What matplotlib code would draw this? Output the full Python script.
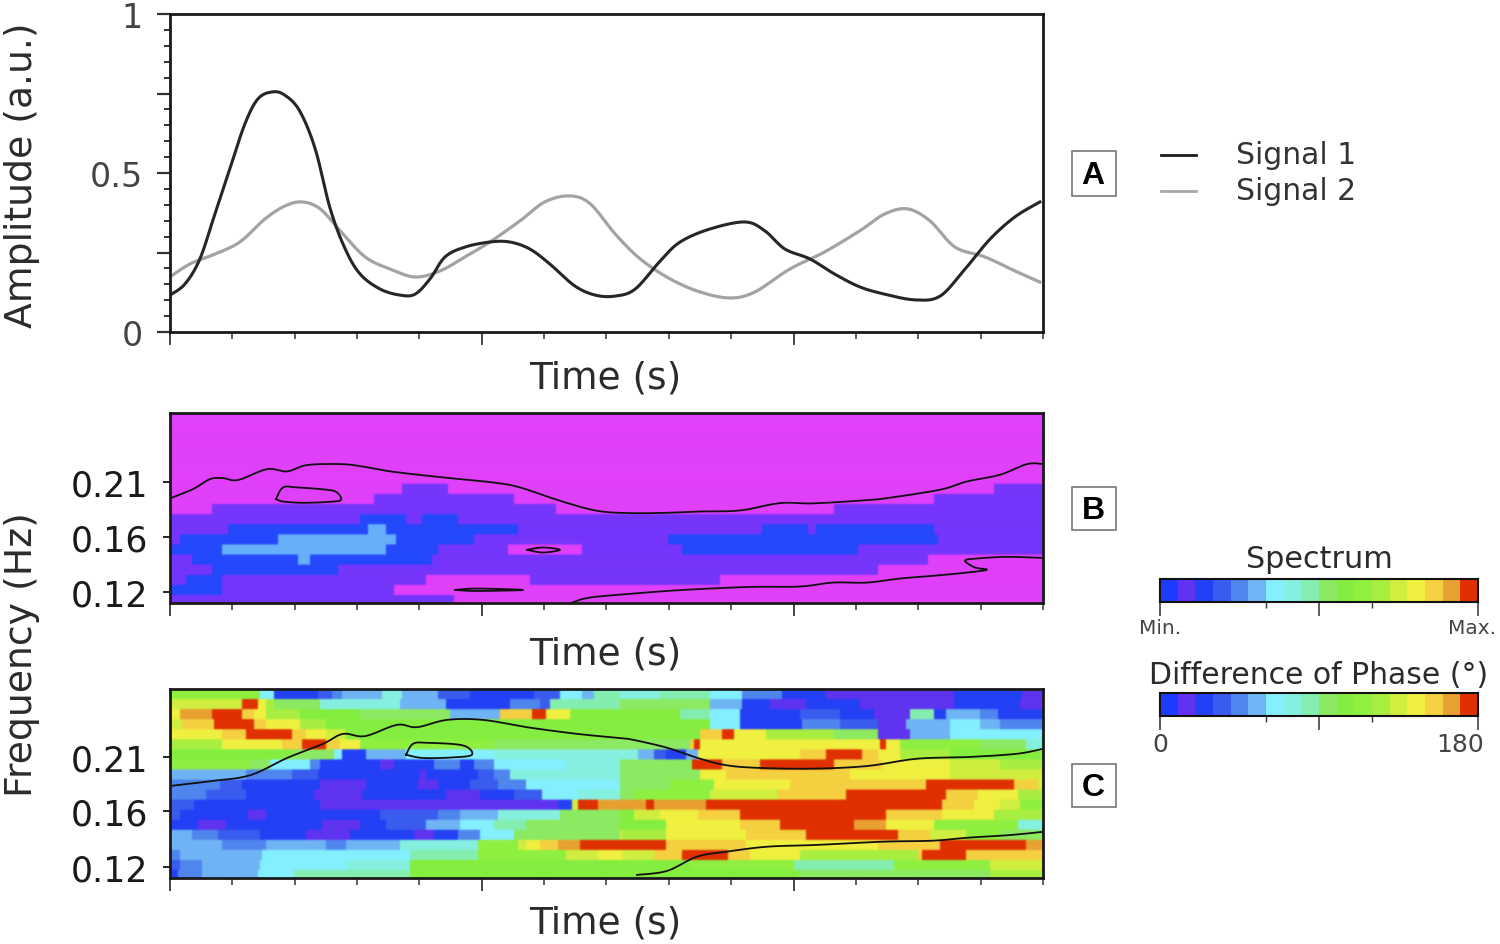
import numpy as np
import matplotlib
matplotlib.use("Agg")
import matplotlib.pyplot as plt
from matplotlib.colors import ListedColormap
from matplotlib.patches import Rectangle

W, H = 1500, 945
plt.rcParams['font.family'] = ['DejaVu Sans']
TXT = '#2b2b2b'

# ---------- Panel A ----------
t1 = [0,.24,.48,.72,.96,1.2,1.41,1.64,1.84,2.08,2.33,2.57,2.81,3.05,3.37,3.69,3.93,4.17,4.41,4.73,5.13,5.45,5.77,6.09,6.49,6.82,7.14,7.46,7.86,8.18,8.66,9.22,9.54,9.86,10.26,10.66,11.06,11.46,11.95,12.35,12.75,13.15,13.55,13.95]
signal1 = [.116,.151,.230,.371,.513,.654,.733,.755,.745,.695,.575,.387,.261,.182,.135,.116,.119,.167,.236,.267,.283,.283,.261,.214,.145,.116,.113,.135,.223,.283,.324,.346,.318,.261,.230,.182,.142,.119,.101,.113,.198,.292,.362,.409]
t2 = [0,.32,.72,1.12,1.52,1.84,2.12,2.41,2.73,3.13,3.53,3.93,4.33,4.73,5.13,5.61,6.01,6.41,6.74,7.14,7.54,8.02,8.5,8.98,9.38,9.94,10.5,11.06,11.46,11.83,12.19,12.59,13.07,13.55,13.95]
signal2 = [.173,.214,.245,.283,.355,.396,.409,.387,.318,.236,.198,.173,.192,.236,.283,.349,.409,.428,.403,.308,.230,.167,.126,.107,.126,.198,.252,.318,.371,.387,.349,.267,.236,.192,.157]

# ---------- colour levels ----------
levels = ['#1f3bff','#5f33f0','#2340f5','#3a5cee','#4f86ee','#6fb4f5','#84f0ff','#86f0e0','#84eeb0','#8cea62',
          '#84ee40','#8ff040','#a8ee40','#d0ee40','#f0f040','#f5d040','#e8a030','#e03000']
spectrum_colors = ['#e040fa', '#7535fb', '#2448fb', '#66b0fa']
M, V, B, L = 0, 1, 2, 3

# Each row (top to bottom): list of (level, end position along time, in cells)
spectrum_rows = [
 [(M,88)],[(M,88)],[(M,88)],[(M,88)],[(M,88)],[(M,88)],[(M,88)],
 [(M,23.3),(V,27.8),(M,82.4),(V,88)],
 [(M,20.4),(V,34.3),(M,76.4),(V,88)],
 [(M,4.2),(V,38.6),(M,66.5),(V,88)],
 [(V,19),(B,23.7),(V,25.2),(B,28.7),(V,88)],
 [(V,5.8),(B,19.8),(L,21.7),(B,34.7),(V,59.3),(B,63.8),(V,64.6),(B,76.5),(V,88)],
 [(V,1),(B,10.7),(L,22.6),(B,30.3),(V,49.8),(B,76.8),(V,88)],
 [(B,5.1),(L,21.5),(B,26.7),(V,33.8),(M,41.3),(V,51.2),(B,68.7),(V,88)],
 [(V,2.2),(B,12.7),(L,13.9),(B,26.2),(V,75.8),(M,88)],
 [(V,4.2),(B,16.8),(V,70.8),(M,88)],
 [(V,1.6),(B,5.3),(V,25.5),(M,36),(V,55),(M,88)],
 [(B,5.3),(V,22.4),(M,88)],
 [(V,28.3),(M,88)],
]

phase_rows = [
 [(11,9),(6,10.5),(2,14.7),(3,16.2),(4,17.2),(5,21.2),(7,23.2),(5,26.8),(3,30),(2,36.3),(3,39),(6,41.3),(5,42.3),(8,45),(7,49),(8,54),(6,57.3),(4,61.3),(2,65.7),(1,78.3),(2,85.3),(1,88)],
 [(13,7.3),(17,8.7),(14,9.7),(12,10.5),(9,15),(7,23),(5,27.7),(2,34),(4,37),(3,38),(8,45),(9,54),(5,57.3),(2,60),(1,63.7),(2,69),(1,78.3),(2,85),(1,88)],
 [(14,1),(16,4.2),(17,7.3),(15,8.5),(14,9.7),(12,13),(10,19),(9,28),(5,33),(15,36.2),(17,37.7),(14,40),(10,51),(8,54),(6,57),(2,63),(3,67),(2,70.3),(1,74),(8,76.3),(2,77.7),(5,81),(4,82.7),(2,88)],
 [(13,1.3),(15,4.3),(17,8.3),(15,9.7),(14,13),(12,15.7),(10,54),(6,57),(2,63.3),(4,67),(3,70.7),(1,73.7),(5,78),(6,81),(5,83),(4,88)],
 [(14,5.3),(15,7.7),(17,12.2),(15,13.7),(14,15.7),(13,17.7),(10,53),(15,55.3),(17,56.3),(14,59.7),(12,66.3),(9,70.7),(1,74),(5,78),(6,88)],
 [(12,5.3),(14,11.3),(15,13.3),(17,15.5),(15,17),(14,19),(11,32.3),(9,52),(15,52.5),(17,53),(14,71),(17,71.7),(14,73),(11,81),(9,85.7),(7,88)],
 [(10,12.3),(9,16.3),(6,17.2),(2,19.7),(5,23.7),(6,32.3),(7,46.7),(5,48.3),(3,49.7),(2,51.7),(5,52.7),(14,63),(15,65.7),(17,69.3),(15,70.7),(14,73),(12,78),(10,88)],
 [(11,8),(9,10),(6,14),(4,15),(2,21),(1,22.3),(2,26.3),(4,29),(2,30.3),(4,32.3),(6,39.7),(7,45),(9,52.2),(17,55.2),(15,59),(17,66.3),(15,71.3),(14,78),(13,83),(12,88)],
 [(5,7.7),(4,12.2),(3,14.7),(2,25),(1,25.5),(2,30.7),(3,32.3),(4,34),(7,45),(9,53),(14,55.7),(15,68),(14,78),(13,88)],
 [(4,5),(3,7.3),(2,15),(1,19.7),(2,24.7),(1,26.7),(2,30),(3,32.7),(4,35.7),(6,45),(9,50),(11,54.3),(14,62),(15,75.7),(17,84.3),(15,86.7),(13,88)],
 [(4,3.7),(3,7.7),(2,14.3),(1,19.3),(2,27.7),(1,31),(2,34.3),(3,37.3),(6,40.7),(7,45),(9,46.3),(11,54),(13,60.7),(15,67.7),(17,77.7),(15,80.7),(14,84.7),(12,88)],
 [(3,2.3),(2,15),(1,38.7),(2,40.2),(13,40.8),(17,42.7),(16,47.7),(17,48.3),(16,53.7),(17,77.3),(15,80.3),(14,83),(13,85),(11,88)],
 [(3,1),(2,7.8),(1,9.7),(2,21),(3,26.7),(4,29),(5,32.7),(7,39),(9,45),(10,46.3),(13,49),(14,52.7),(15,57),(17,71.7),(15,77.3),(14,82.3),(12,88)],
 [(2,2.7),(1,5.7),(2,15.3),(1,19),(2,21.7),(3,25.7),(5,29),(6,32.3),(8,35.7),(9,45),(10,49.7),(14,57),(15,61),(17,68.3),(16,71.7),(14,76.3),(11,84.7),(7,88)],
 [(5,2.2),(4,4.8),(3,9),(2,13.7),(1,18),(2,24.3),(1,26.3),(2,28.8),(4,31),(6,34.3),(9,45),(13,45.3),(12,49.7),(14,57.7),(15,63.7),(17,72.7),(15,76),(13,79.7),(11,83),(9,88)],
 [(5,5.3),(4,9.7),(5,15.7),(4,17.7),(5,23),(7,30.7),(11,34.7),(13,35.7),(14,37),(15,38.8),(16,41),(17,49.5),(15,57.7),(14,70.7),(15,77),(17,85.5),(16,88)],
 [(4,1),(5,9.3),(6,24),(8,30.7),(11,39.7),(13,42.7),(14,45.3),(13,48.3),(15,51.3),(17,55.8),(15,58),(14,63),(12,74.7),(15,75.3),(17,79.7),(15,88)],
 [(3,1),(4,3.3),(5,9),(6,17.7),(7,24),(10,52),(11,62.3),(8,72.3),(11,82),(13,88)],
 [(2,0.7),(4,3.3),(5,8.7),(6,12.3),(8,24),(10,63),(9,82),(12,88)],
]

# Contours: position along time and row position, in cells
b_upper_x = [0,2.3,4,5.3,6.8,9.7,11.7,13.7,17,19,22.3,27.3,32.3,35,39,42.7,46,49.7,53,57,61,64.3,69.7,71.7,77,79.7,83,85.7,87.3]
b_upper_y = [8.45,7.53,6.54,6.44,6.63,5.55,5.78,5.15,5.05,5.25,5.81,6.37,6.87,7.36,8.68,9.67,9.9,9.87,9.74,9.64,8.91,8.94,8.62,8.42,7.59,6.77,6.11,5.05,5.05]
b_isle1_x = [10.6,11.3,12.7,15.7,16.7,17.1,16,13.3,11.3,10.6]
b_isle1_y = [8.52,7.36,7.36,7.59,7.86,8.58,8.78,8.88,8.75,8.52]
b_isle2_x = [35.7,37.3,39,37.3,35.7]
b_isle2_y = [13.53,13.3,13.53,13.8,13.53]
b_isle3_x = [28.5,30.7,35.3,30.7,28.5]
b_isle3_y = [17.5,17.36,17.5,17.6,17.5]
b_lower_x = [40.2,42,46.3,51.3,58,63,66.3,69.7,73,76.3,79.7,81.7,80.5,79.5,80.7,83.7,87.3]
b_lower_y = [18.75,18.25,17.86,17.5,17.2,17.16,16.77,16.77,16.37,16.1,15.78,15.5,15.28,14.6,14.39,14.23,14.33]
c_upper_x = [0,4,8,11.7,15.3,17.3,19.5,22.7,24.7,27.7,31.3,35.7,40.7,45,46.3,49.7,53,55.7,59,64.3,69.7,74.7,79.7,84.7,87.3]
c_upper_y = [9.64,9.17,8.58,6.86,5.45,4.46,4.69,3.56,3.8,3.07,3.07,3.8,4.46,4.88,5.05,5.84,6.93,7.59,7.85,7.92,7.66,6.93,6.77,6.44,5.94]
c_isle_x = [23.6,24.3,25.7,29.3,30.2,28.3,25.3,23.6]
c_isle_y = [6.53,5.45,5.35,5.61,6.53,6.8,6.86,6.53]
c_lower_x = [46.7,49.7,52.7,55.7,59.7,64.7,71.3,76.3,79.7,84,87.3]
c_lower_y = [18.48,18.09,16.67,16.17,15.68,15.5,15.18,15.08,14.79,14.52,14.2]

freq_labels = ['0.21', '0.16', '0.12']
amp_ticks = [0, 0.25, 0.5, 0.75, 1]
amp_labels = ['0', '', '0.5', '', '1']
legend_names = ['Signal 1', 'Signal 2']
panel_letters = ['A', 'B', 'C']

CELL = 14 / 87.3     # time ticks per cell
SUB = 5              # sub-cell resolution along time
ROWSUB = 5           # sub-cell resolution along frequency


def axes_px(x0, y0, x1, y1):
    return fig.add_axes([x0 / W, 1 - y1 / H, (x1 - x0) / W, (y1 - y0) / H])


def runs_to_grid(rows):
    n = int(88 * SUB)
    grid = np.zeros((len(rows), n), dtype=int)
    for i, row in enumerate(rows):
        start = 0
        for lev, end in row:
            stop = int(round(end * SUB))
            grid[i, start:stop] = lev
            start = stop
    return np.repeat(grid, ROWSUB, axis=0)


def smooth(x, y, n=12):
    """Catmull-Rom curve through the read points, for drawing only."""
    p = np.column_stack([x, y])
    p = np.vstack([p[0], p, p[-1]])
    out = []
    s = np.linspace(0, 1, n, endpoint=False)[:, None]
    for i in range(1, len(p) - 2):
        a, b, c, d = p[i - 1], p[i], p[i + 1], p[i + 2]
        out.append(0.5 * (2 * b + (c - a) * s + (2 * a - 5 * b + 4 * c - d) * s ** 2 + (3 * b - a - 3 * c + d) * s ** 3))
    out.append(p[-2][None, :])
    out = np.vstack(out)
    return out[:, 0], out[:, 1]


def style_time(ax, width=2.0):
    ax.set_xlim(0, 14)
    ax.set_xticks([0, 5, 10])
    ax.set_xticks(np.arange(0, 15), minor=True)
    ax.set_xticklabels([])
    ax.tick_params(axis='x', which='major', length=9, width=1.4, color='#444444')
    ax.tick_params(axis='x', which='minor', length=5, width=1.2, color='#444444')
    for s in ax.spines.values():
        s.set_linewidth(width)
        s.set_color('#1a1a1a')


fig = plt.figure(figsize=(W / 100, H / 100), dpi=100, facecolor='white')

# Panel A
axA = axes_px(170, 15, 1043, 333)
axA.plot(*smooth(t2, signal2), color='#a3a3a3', lw=2.3, solid_joinstyle='round')
axA.plot(*smooth(t1, signal1), color='#262626', lw=2.2, solid_joinstyle='round')
style_time(axA)
axA.set_ylim(0, 1)
axA.set_yticks(amp_ticks)
axA.set_yticklabels(amp_labels, fontsize=24, color='#444444')
axA.set_yticks(np.arange(0, 1.001, 0.05), minor=True)
axA.tick_params(axis='y', which='major', length=9.5, width=1.6, pad=10, color='#333333')
axA.tick_params(axis='y', which='minor', length=4.5, width=1.4, color='#333333')

# Panels B and C
def heat(box, grid, cmap, vmax, contours, ytick_pos):
    ax = axes_px(*box)
    ax.imshow(grid, cmap=cmap, vmin=0, vmax=vmax, aspect='auto', interpolation='gaussian',
              interpolation_stage='rgba', extent=[0, 88 * CELL, grid.shape[0] / ROWSUB, 0])
    for cx, cy in contours:
        ax.plot(*smooth(np.array(cx) * CELL, cy, 6), color='#111111', lw=1.3)
    ax.set_ylim(18.79, 0)
    style_time(ax)
    ax.set_yticks(ytick_pos)
    ax.set_yticklabels(freq_labels, fontsize=25, color='#1a1a1a')
    ax.tick_params(axis='y', which='major', length=5, width=1.2, pad=11)
    return ax

axB = heat((170, 414, 1043, 604), runs_to_grid(spectrum_rows), ListedColormap(spectrum_colors), 3,
           [(b_upper_x, b_upper_y), (b_isle1_x, b_isle1_y), (b_isle2_x, b_isle2_y),
            (b_isle3_x, b_isle3_y), (b_lower_x, b_lower_y)], [6.83, 12.28, 17.7])
axC = heat((170, 690, 1043, 879), runs_to_grid(phase_rows), ListedColormap(levels), 17,
           [(c_upper_x, c_upper_y), (c_isle_x, c_isle_y), (c_lower_x, c_lower_y)], [6.77, 12.15, 17.66])


def label(px, py, s, size, color=TXT, rot=0, **kw):
    fig.text(px / W, 1 - py / H, s, fontsize=size, color=color, rotation=rot,
             ha=kw.pop('ha', 'center'), va=kw.pop('va', 'center'), **kw)

for y in (378, 655, 924):
    label(605, y, 'Time (s)', 27)
label(22, 175, 'Amplitude (a.u.)', 27.2, rot=90)
label(22, 655, 'Frequency (Hz)', 27.2, rot=90)

# Panel letters
for letter, (x0, y0, x1, y1) in zip(panel_letters, [(1072, 152, 1116, 197), (1072, 488, 1116, 531), (1072, 765, 1116, 808)]):
    fig.add_artist(Rectangle((x0 / W, 1 - y1 / H), (x1 - x0) / W, (y1 - y0) / H, transform=fig.transFigure,
                             fc='white', ec='#777777', lw=1.2))
    label((x0 + x1) / 2 - 1, (y0 + y1) / 2 + 2, letter, 23, color='black', fontweight='bold', family='Liberation Sans')

# Legend
for name, col, y, ly in zip(legend_names, ['#1c1c1c', '#a8a8a8'], (156, 192), (155, 191)):
    fig.add_artist(plt.Line2D([1161 / W, 1196 / W], [1 - y / H] * 2, color=col, lw=2.0, transform=fig.transFigure))
    label(1236, ly + 1, name, 21.5, ha='left', color='#333333')

# Colour bars
def cbar(y0, y1, title, title_y, left, right, lab_y):
    ax = axes_px(1160, y0, 1478, y1)
    ax.imshow(np.arange(18)[None, :], cmap=ListedColormap(levels), aspect='auto', interpolation='nearest',
              extent=[0, 1, 0, 1])
    ax.set_yticks([])
    ax.set_xticks([0, 0.5, 1])
    ax.set_xticks([1 / 3, 2 / 3], minor=True)
    ax.set_xticklabels([])
    ax.tick_params(axis='x', which='major', length=10, width=1.1, color='#333333')
    ax.tick_params(axis='x', which='minor', length=4, width=1.0, color='#333333')
    for s in ax.spines.values():
        s.set_linewidth(1.5)
        s.set_color('#111111')
    label(title[1], title_y, title[0], title[2])
    label(left[1], lab_y, left[0], left[2], color='#444444')
    label(right[1], lab_y, right[0], right[2], color='#444444')

cbar(580, 603, ('Spectrum', 1319, 21.8), 559, ('Min.', 1160, 14.5), ('Max.', 1472, 14.5), 629)
cbar(694, 717, ('Difference of Phase (°)', 1319, 21.5), 676, ('0', 1160, 18), ('180', 1460, 18), 745)

fig.savefig('out.png', dpi=100, facecolor='white')
